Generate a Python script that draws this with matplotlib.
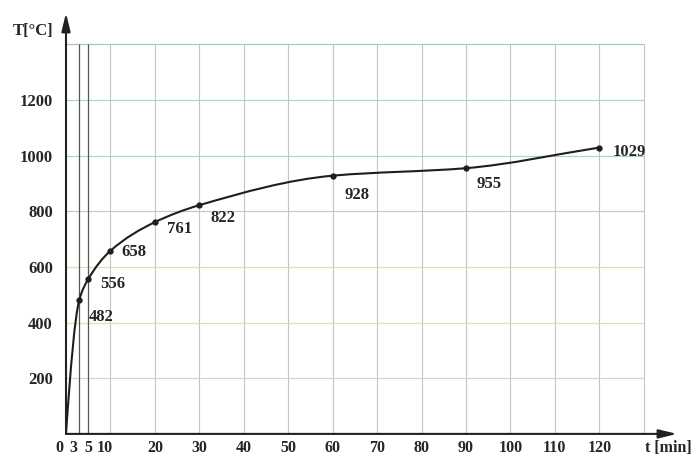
import numpy as np
import matplotlib
matplotlib.use("Agg")
import matplotlib.pyplot as plt
from matplotlib.path import Path
from matplotlib.patches import PathPatch

# Temperature rise of the standard fire curve
time_min = [0, 3, 5, 10, 20, 30, 60, 90, 120]
temp_c = [0, 482, 556, 658, 761, 822, 928, 955, 1029]

# Axis ticks and labels
x_ticks = [0, 3, 5, 10, 20, 30, 40, 50, 60, 70, 80, 90, 100, 110, 120]
x_tick_labels = [str(v) for v in x_ticks]
y_ticks = [200, 400, 600, 800, 1000, 1200]
y_tick_labels = [str(v) for v in y_ticks]
x_grid = [10, 20, 30, 40, 50, 60, 70, 80, 90, 100, 110, 120, 130]
y_grid = [200, 400, 600, 800, 1000, 1200, 1400]
x_marked = [3, 5]

# Style / placement
y_grid_colors = ["#d6d6c8", "#e4dfb4", "#e2ddb8", "#b8ccd2", "#a9d3d9", "#a9d3d9", "#a8c6cc"]
label_offsets = [None, (9, -17), (12, -5), (11, -1), (12, -7), (11, -13),
                 (12, -19), (11, -16), (13, -4)]
x_label_nudge = {0: -7, 3: -6, 10: -6}

plt.rcParams["font.family"] = ["Liberation Serif", "DejaVu Serif"]
FONT = dict(fontsize=12, fontweight="bold", color="#262626")
XFONT = dict(fontsize=11.5, fontweight="bold", color="#262626")

fig = plt.figure(figsize=(7.0, 4.57), dpi=100)
W, H = 700, 457
x0_px, y0_px = 66, 433.9
x_scale = (599.3 - 66) / 120.0
y_scale = (433.9 - 100) / 1200.0
right_px, top_px = 677, 13
ax = fig.add_axes([x0_px / W, (H - y0_px) / H, (right_px - x0_px) / W, (y0_px - top_px) / H])
ax.set_xlim(0, (right_px - x0_px) / x_scale)
ax.set_ylim(0, (y0_px - top_px) / y_scale)
for s in ax.spines.values():
    s.set_visible(False)
ax.patch.set_alpha(0)

# Grid
x_top = max(x_grid)
y_top = max(y_grid)
ax.vlines(x_grid, 0, y_top, colors="#c4c4c4", lw=0.8, zorder=1)
for yv, c in zip(y_grid, y_grid_colors):
    ax.hlines(yv, 0, x_top, colors=c, lw=0.9, zorder=1)
ax.vlines(x_marked, 0, y_top, colors="#555555", lw=0.9, zorder=2)

# Axes with arrow heads
arrow = dict(arrowstyle="-|>,head_length=0.9,head_width=0.22", lw=1.5, color="#222222",
             shrinkA=0, shrinkB=0, mutation_scale=12)
ax.annotate("", xy=(1, 0), xytext=(0, 0), xycoords="axes fraction", arrowprops=arrow, zorder=5)
ax.annotate("", xy=(0, 1), xytext=(0, 0), xycoords="axes fraction", arrowprops=arrow, zorder=5)

# Smooth monotone curve through the data (cubic Hermite as Bezier segments)
x = np.asarray(time_min, float)
y = np.asarray(temp_c, float)
h = np.diff(x)
d = np.diff(y) / h
m = np.zeros_like(y)
for i in range(1, len(x) - 1):
    if d[i - 1] * d[i] > 0:
        w1 = 2 * h[i] + h[i - 1]
        w2 = h[i] + 2 * h[i - 1]
        m[i] = (w1 + w2) / (w1 / d[i - 1] + w2 / d[i])
m[0] = ((2 * h[0] + h[1]) * d[0] - h[0] * d[1]) / (h[0] + h[1])
m[-1] = d[-1]
verts = [(x[0], y[0])]
codes = [Path.MOVETO]
for i in range(len(x) - 1):
    verts += [(x[i] + h[i] / 3, y[i] + m[i] * h[i] / 3),
              (x[i + 1] - h[i] / 3, y[i + 1] - m[i + 1] * h[i] / 3),
              (x[i + 1], y[i + 1])]
    codes += [Path.CURVE4] * 3
ax.add_patch(PathPatch(Path(verts, codes), fill=False, lw=1.5, ec="#1e1e1e", zorder=4))
ax.plot(time_min[1:], temp_c[1:], "o", ms=3.5, color="#1e1e1e", zorder=5)

# Value labels
for t, v, off in zip(time_min, temp_c, label_offsets):
    if off is None:
        continue
    ax.annotate(str(v), xy=(t, v), xytext=off, textcoords="offset pixels",
                ha="left", va="center", **FONT)

# Tick labels
ax.set_xticks([])
ax.set_yticks(y_ticks, y_tick_labels)
ax.tick_params(axis="y", length=0, pad=9.5)
for lab in ax.get_yticklabels():
    lab.set_fontsize(12)
    lab.set_fontweight("bold")
    lab.set_color("#262626")
for t, lab in zip(x_ticks, x_tick_labels):
    ax.annotate(lab, xy=(t, 0), xytext=(x_label_nudge.get(t, 0), -14.5),
                textcoords="offset pixels", ha="center", va="center", **XFONT)

# Axis titles
fig.text(53 / W, 1 - 31 / H, "T[°C]", ha="right", va="center", **FONT)
fig.text(645 / W, 1 - 448.5 / H, "t [min]", ha="left", va="center", **XFONT)

fig.savefig("out.png", dpi=100, facecolor="white")
